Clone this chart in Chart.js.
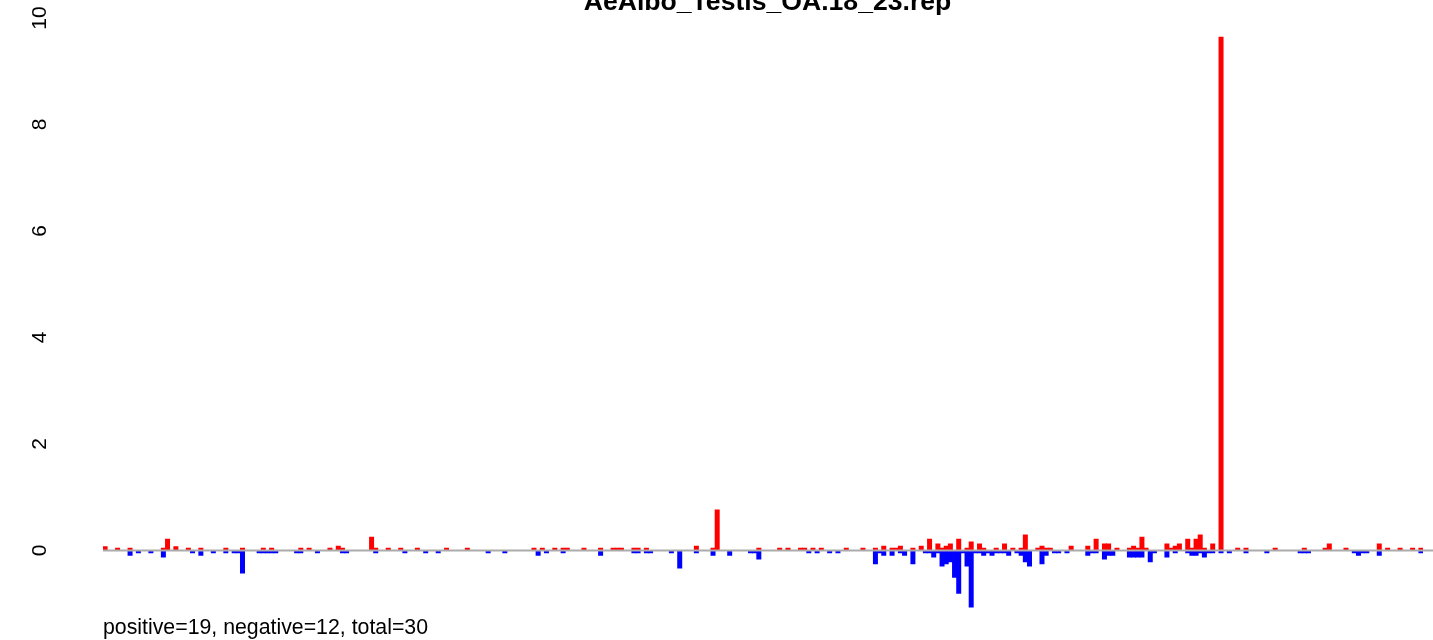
<!DOCTYPE html>
<html>
<head>
<meta charset="utf-8">
<script src="https://cdn.jsdelivr.net/npm/chart.js@4"></script>
<style>
html,body{margin:0;padding:0;background:#fff;}
canvas{display:block;}
</style>
</head>
<body>
<canvas id="c" width="1433" height="640"></canvas>
<script>
const titleText = "AeAlbo_Testis_OA.18_23.rep";
const noteText = "positive=19, negative=12, total=30";
const slotCount = 317;
const yTicks = [0, 2, 4, 6, 8, 10];

const posSlots = [0,3,6,14,15,17,20,23,29,33,38,40,47,49,54,56,57,64,65,68,71,75,82,87,103,105,108,110,111,115,119,122,123,124,127,128,130,142,146,147,157,162,164,167,168,170,172,178,182,185,187,189,190,191,194,196,198,200,201,202,203,205,207,208,210,211,214,216,218,220,221,224,225,226,227,232,236,238,240,241,243,246,247,248,249,250,255,256,257,258,260,261,262,263,264,266,268,272,274,281,288,293,294,298,306,308,311,314,316];
const posValues = [0.08,0.05,0.05,0.05,0.22,0.08,0.05,0.05,0.05,0.05,0.05,0.05,0.05,0.05,0.05,0.09,0.05,0.26,0.05,0.05,0.05,0.05,0.05,0.05,0.05,0.05,0.05,0.05,0.05,0.05,0.05,0.05,0.05,0.05,0.05,0.05,0.05,0.09,0.05,0.77,0.05,0.05,0.05,0.05,0.05,0.05,0.05,0.05,0.05,0.05,0.09,0.05,0.05,0.09,0.05,0.09,0.22,0.13,0.05,0.09,0.13,0.22,0.05,0.17,0.13,0.05,0.05,0.13,0.05,0.05,0.30,0.05,0.09,0.05,0.05,0.09,0.09,0.22,0.13,0.13,0.05,0.05,0.09,0.05,0.26,0.05,0.13,0.05,0.09,0.13,0.22,0.05,0.22,0.30,0.05,0.13,9.65,0.05,0.05,0.05,0.05,0.05,0.13,0.05,0.13,0.05,0.05,0.05,0.05];

const negSlots = [6,8,11,14,21,23,26,29,31,32,33,37,38,39,40,41,46,47,51,57,58,65,72,77,80,92,96,104,106,110,119,127,128,130,131,136,138,142,146,150,155,156,157,169,171,174,176,185,186,187,189,191,192,194,197,198,199,200,201,202,203,204,205,206,207,208,209,210,211,212,213,214,215,216,217,219,220,221,222,225,226,228,229,231,236,237,238,240,241,242,246,247,248,249,251,252,255,257,260,261,262,263,264,265,266,268,270,274,279,287,288,289,300,301,302,303,306,316];
const negValues = [-0.10,-0.05,-0.05,-0.13,-0.05,-0.10,-0.05,-0.05,-0.05,-0.05,-0.43,-0.05,-0.05,-0.05,-0.05,-0.05,-0.05,-0.05,-0.05,-0.05,-0.05,-0.05,-0.05,-0.05,-0.05,-0.05,-0.05,-0.10,-0.05,-0.05,-0.10,-0.05,-0.05,-0.05,-0.05,-0.05,-0.34,-0.05,-0.10,-0.10,-0.05,-0.05,-0.17,-0.05,-0.05,-0.05,-0.05,-0.26,-0.05,-0.10,-0.10,-0.05,-0.10,-0.26,-0.05,-0.05,-0.13,-0.05,-0.30,-0.26,-0.22,-0.51,-0.81,-0.05,-0.30,-1.07,-0.05,-0.05,-0.10,-0.05,-0.10,-0.05,-0.05,-0.05,-0.10,-0.05,-0.10,-0.22,-0.30,-0.26,-0.10,-0.05,-0.05,-0.05,-0.10,-0.05,-0.05,-0.17,-0.10,-0.10,-0.13,-0.13,-0.13,-0.13,-0.22,-0.05,-0.13,-0.05,-0.05,-0.10,-0.10,-0.05,-0.13,-0.05,-0.05,-0.05,-0.05,-0.05,-0.05,-0.05,-0.05,-0.05,-0.05,-0.10,-0.05,-0.05,-0.10,-0.05];

const labels = Array.from({length: slotCount}, (_, i) => String(i + 1));
function fill(slots, vals) {
  const a = new Array(slotCount).fill(null);
  slots.forEach((s, i) => { a[s] = vals[i]; });
  return a;
}

const FONT = "'Liberation Sans', Arial, Helvetica, sans-serif";

const decor = {
  id: 'decor',
  afterDatasetsDraw(chart) {
    const ctx = chart.ctx;
    const y = chart.scales.y;
    const area = chart.chartArea;
    const y0 = y.getPixelForValue(0);
    ctx.save();
    ctx.strokeStyle = '#ABABAB';
    ctx.lineWidth = 2;
    ctx.beginPath();
    ctx.moveTo(area.left, y0);
    ctx.lineTo(1433, y0);
    ctx.stroke();
    ctx.restore();
  },
  afterDraw(chart) {
    const ctx = chart.ctx;
    const y = chart.scales.y;
    ctx.save();
    ctx.fillStyle = '#000';
    ctx.font = "21px " + FONT;
    ctx.textAlign = 'center';
    ctx.textBaseline = 'middle';
    yTicks.forEach(v => {
      const py = y.getPixelForValue(v);
      ctx.save();
      ctx.translate(40, py);
      ctx.rotate(-Math.PI / 2);
      ctx.fillText(String(v), 0, 0);
      ctx.restore();
    });
    ctx.font = "21.3px " + FONT;
    ctx.textAlign = 'left';
    ctx.textBaseline = 'alphabetic';
    ctx.fillText(noteText, 103, 634);
    ctx.font = "bold 26.6px " + FONT;
    ctx.textAlign = 'center';
    ctx.fillText(titleText, 767.5, 10);
    ctx.restore();
  }
};

new Chart(document.getElementById('c'), {
  type: 'bar',
  data: {
    labels: labels,
    datasets: [
      { data: fill(posSlots, posValues), backgroundColor: '#FF0000', borderWidth: 0, barPercentage: 1.2, categoryPercentage: 1, grouped: false },
      { data: fill(negSlots, negValues), backgroundColor: '#0000FF', borderWidth: 0, barPercentage: 1.2, categoryPercentage: 1, grouped: false }
    ]
  },
  options: {
    responsive: false,
    animation: false,
    layout: { padding: { left: 103, right: 10, top: 18, bottom: 4.3 } },
    plugins: { legend: { display: false }, tooltip: { enabled: false }, title: { display: false } },
    scales: {
      x: { display: false },
      y: { display: false, min: -1.6, max: 10 }
    }
  },
  plugins: [decor]
});
</script>
</body>
</html>
